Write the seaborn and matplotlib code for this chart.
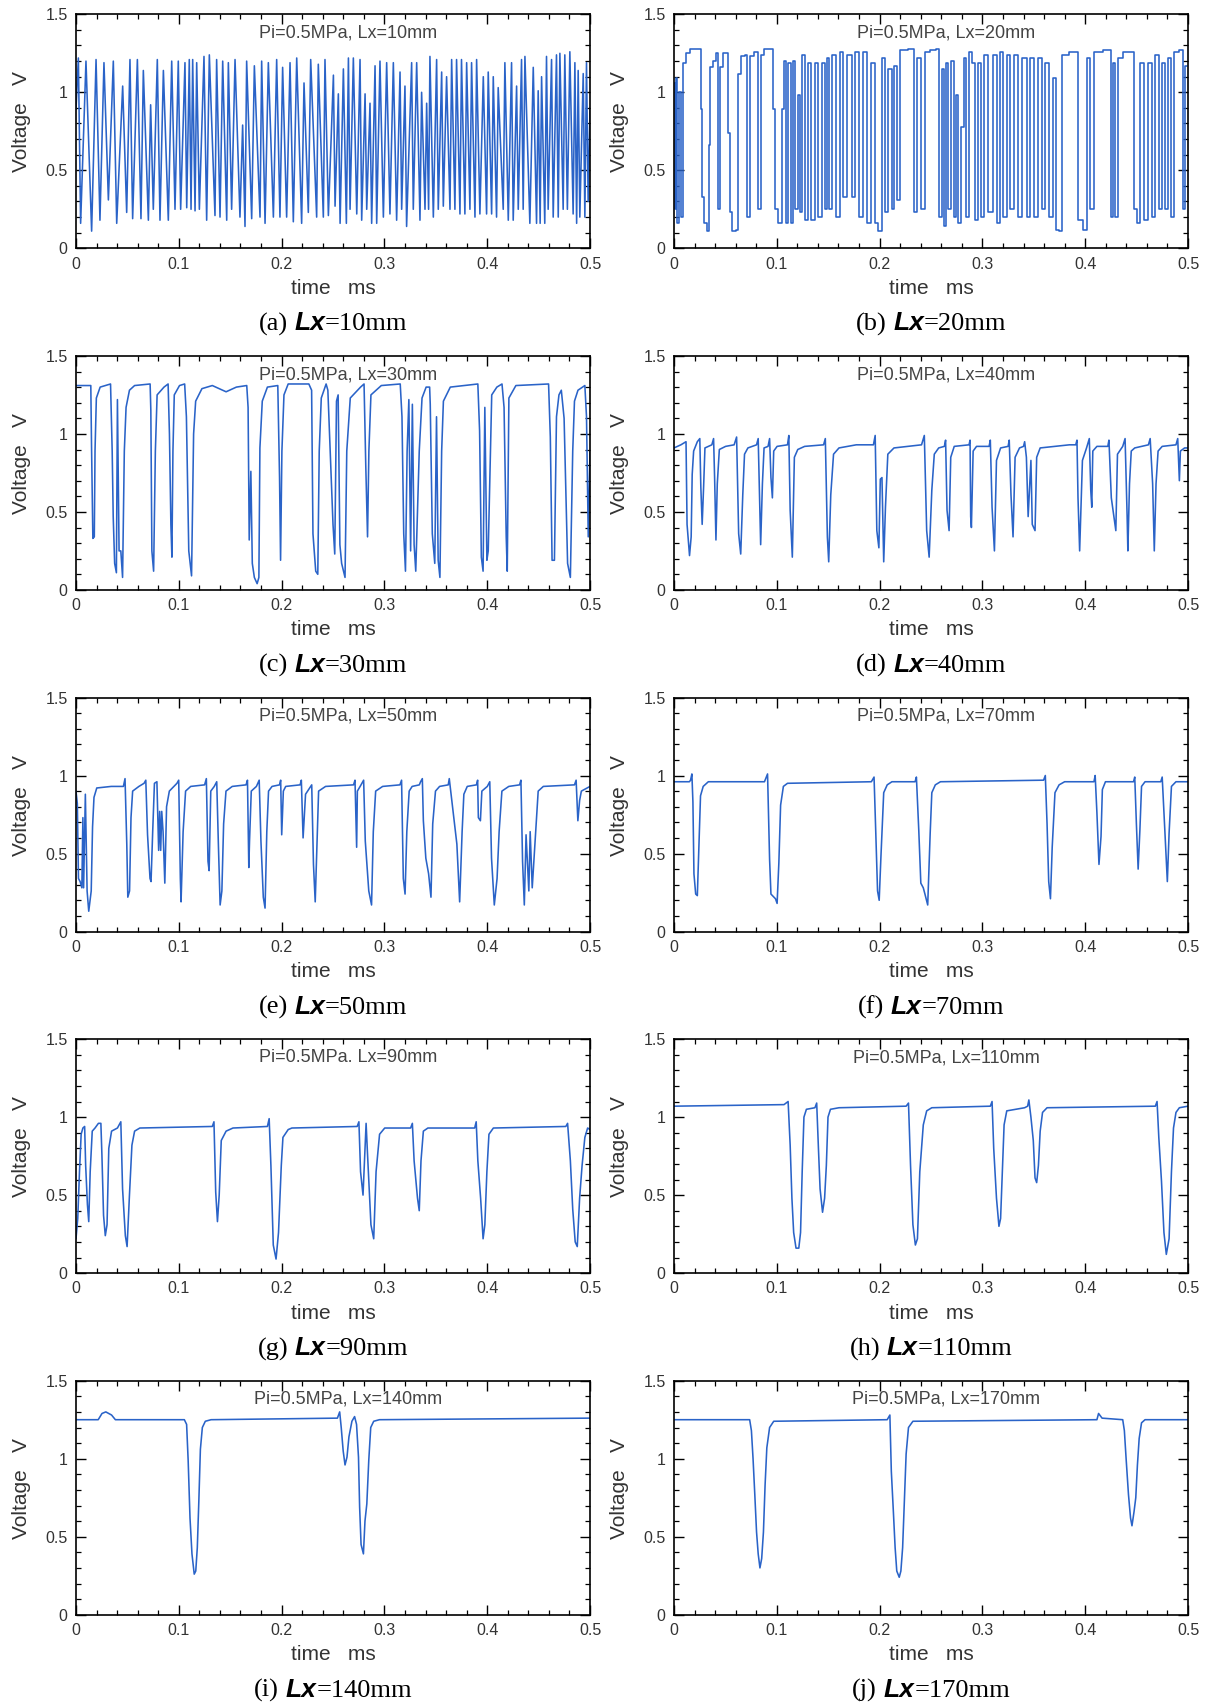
import matplotlib
matplotlib.use("Agg")
import matplotlib.pyplot as plt
import pandas as pd
import seaborn as sns
from matplotlib.ticker import MultipleLocator, FuncFormatter

lx10 = [(0.000, 0.89), (0.0023, 1.22), (0.0045, 0.16), (0.0097, 1.20), (0.0152, 0.11), (0.0195, 1.21),
        (0.0233, 0.18), (0.0272, 1.19), (0.0315, 0.31), (0.0363, 1.20), (0.0396, 0.16), (0.0454, 1.04),
        (0.0493, 0.23), (0.0525, 1.21), (0.0551, 0.19), (0.0597, 1.21), (0.0632, 0.19), (0.0655, 1.14),
        (0.0704, 0.18), (0.0726, 0.92), (0.0752, 0.25), (0.0791, 1.21), (0.0817, 0.18), (0.0850, 1.14),
        (0.0898, 0.18), (0.0931, 1.20), (0.0963, 0.25), (0.0995, 1.20), (0.1018, 0.25), (0.1060, 1.19),
        (0.1077, 0.26), (0.1102, 1.21), (0.1119, 0.25), (0.1135, 1.21), (0.1158, 0.24), (0.1174, 1.19),
        (0.1200, 0.25), (0.1245, 1.23), (0.1271, 0.18), (0.1297, 1.24), (0.1352, 0.21), (0.1368, 1.21),
        (0.1401, 0.20), (0.1427, 1.20), (0.1466, 0.18), (0.1482, 1.19), (0.1514, 0.25), (0.1547, 1.21),
        (0.1595, 0.20), (0.1621, 0.79), (0.1644, 0.14), (0.1660, 1.20), (0.1709, 0.19), (0.1735, 1.17),
        (0.1790, 0.20), (0.1806, 1.20), (0.1839, 0.16), (0.1871, 1.19), (0.1920, 0.20), (0.1952, 1.21),
        (0.1984, 0.20), (0.2010, 1.16), (0.2049, 0.20), (0.2082, 1.19), (0.2114, 0.17), (0.2147, 1.22),
        (0.2195, 0.16), (0.2218, 1.06), (0.2260, 0.23), (0.2283, 1.21), (0.2341, 0.20), (0.2357, 1.18),
        (0.2406, 0.20), (0.2422, 1.21), (0.2455, 0.21), (0.2504, 1.11), (0.2520, 0.27), (0.2552, 0.99),
        (0.2569, 0.16), (0.2601, 1.15), (0.2630, 0.16), (0.2650, 1.22), (0.2666, 0.25), (0.2698, 1.22),
        (0.2731, 0.22), (0.2763, 1.21), (0.2779, 0.18), (0.2812, 0.99), (0.2828, 0.25), (0.2860, 0.93),
        (0.2876, 0.16), (0.2909, 1.17), (0.2925, 0.16), (0.2957, 1.20), (0.2990, 0.20), (0.3022, 1.19),
        (0.3054, 0.22), (0.3087, 1.19), (0.3119, 0.18), (0.3152, 1.13), (0.3168, 0.25), (0.3200, 1.04),
        (0.3216, 0.14), (0.3265, 1.19), (0.3281, 0.25), (0.3314, 1.19), (0.3346, 0.18), (0.3362, 1.00),
        (0.3395, 0.25), (0.3411, 0.93), (0.3430, 0.25), (0.3443, 1.23), (0.3476, 0.20), (0.3508, 1.21),
        (0.3524, 0.25), (0.3557, 1.13), (0.3573, 0.27), (0.3605, 1.10), (0.3638, 0.25), (0.3654, 1.21),
        (0.3686, 0.25), (0.3702, 1.21), (0.3735, 0.22), (0.3750, 1.21), (0.3783, 0.22), (0.3800, 1.19),
        (0.3832, 0.25), (0.3848, 1.19), (0.3881, 0.20), (0.3897, 1.21), (0.3929, 0.22), (0.3962, 1.10),
        (0.3994, 0.22), (0.4010, 1.13), (0.4043, 0.22), (0.4059, 1.10), (0.4091, 0.20), (0.4107, 1.03),
        (0.4156, 0.25), (0.4172, 1.19), (0.4205, 0.18), (0.4237, 1.19), (0.4253, 0.18), (0.4286, 1.04),
        (0.4302, 0.25), (0.4334, 1.21), (0.4350, 0.25), (0.4367, 1.23), (0.4415, 0.16), (0.4448, 1.16),
        (0.4480, 0.16), (0.4496, 1.01), (0.4515, 0.16), (0.4529, 1.10), (0.4560, 0.16), (0.4577, 1.23),
        (0.4593, 0.25), (0.4626, 1.21), (0.4642, 0.20), (0.4674, 1.24), (0.4691, 0.20), (0.4707, 1.25),
        (0.4739, 0.25), (0.4755, 1.24), (0.4780, 0.25), (0.4804, 1.26), (0.4836, 0.22), (0.4853, 1.19),
        (0.4870, 0.16), (0.4885, 1.14), (0.4901, 0.20), (0.4934, 1.12), (0.4950, 0.20), (0.4966, 1.19),
        (0.4982, 0.30), (0.5000, 0.90)]

lx20 = [(0.000, 1.06), (0.0010, 0.25), (0.0026, 1.09), (0.0042, 0.16), (0.0058, 1.00), (0.0075, 0.20),
        (0.0097, 1.19), (0.0139, 1.25), (0.0172, 1.28), (0.0253, 1.28), (0.0269, 0.89), (0.0279, 0.33),
        (0.0302, 0.16), (0.0334, 0.11), (0.0350, 0.66), (0.0360, 1.16), (0.0399, 1.20), (0.0422, 1.25),
        (0.0435, 0.25), (0.0454, 1.16), (0.0496, 1.25), (0.0519, 1.25), (0.0532, 0.74), (0.0551, 0.23),
        (0.0584, 0.11), (0.0616, 0.12), (0.0632, 1.12), (0.0674, 1.23), (0.0700, 1.24), (0.0723, 0.20),
        (0.0746, 1.23), (0.0804, 1.26), (0.0830, 0.25), (0.0856, 1.24), (0.0901, 1.28), (0.0950, 1.28),
        (0.0973, 0.89), (0.0999, 0.25), (0.1031, 0.16), (0.1064, 0.89), (0.1080, 1.20), (0.1102, 0.16),
        (0.1122, 1.19), (0.1148, 0.16), (0.1167, 1.20), (0.1193, 0.25), (0.1213, 0.98), (0.1232, 0.23),
        (0.1265, 1.24), (0.1291, 0.18), (0.1316, 1.19), (0.1355, 0.18), (0.1388, 1.19), (0.1420, 0.20),
        (0.1453, 1.19), (0.1479, 0.25), (0.1501, 1.22), (0.1524, 0.25), (0.1556, 1.24), (0.1589, 0.20),
        (0.1631, 1.26), (0.1663, 0.33), (0.1712, 1.24), (0.1744, 0.33), (0.1783, 1.26), (0.1816, 0.20),
        (0.1858, 1.26), (0.1890, 0.16), (0.1939, 1.19), (0.1971, 0.16), (0.2004, 0.11), (0.2036, 1.22),
        (0.2069, 0.23), (0.2101, 1.15), (0.2134, 0.25), (0.2153, 1.17), (0.2182, 0.31), (0.2215, 1.27),
        (0.2328, 1.28), (0.2348, 0.23), (0.2380, 1.22), (0.2425, 0.25), (0.2464, 1.26), (0.2523, 1.27),
        (0.2571, 1.28), (0.2594, 0.20), (0.2613, 1.15), (0.2633, 0.14), (0.2652, 1.19), (0.2685, 0.25),
        (0.2711, 1.20), (0.2733, 0.20), (0.2756, 0.98), (0.2776, 0.16), (0.2802, 0.78), (0.2831, 1.22),
        (0.2853, 0.20), (0.2886, 1.26), (0.2918, 1.19), (0.2944, 0.18), (0.2977, 1.19), (0.2996, 0.20),
        (0.3041, 1.24), (0.3074, 0.23), (0.3123, 1.24), (0.3155, 0.16), (0.3187, 1.26), (0.3220, 0.20),
        (0.3252, 1.24), (0.3285, 0.25), (0.3333, 1.24), (0.3366, 0.20), (0.3414, 1.22), (0.3447, 0.20),
        (0.3479, 1.22), (0.3528, 0.20), (0.3560, 1.22), (0.3593, 0.25), (0.3625, 1.19), (0.3674, 0.20),
        (0.3706, 1.09), (0.3729, 0.12), (0.3755, 0.11), (0.3787, 1.24), (0.3901, 1.26), (0.3966, 0.18),
        (0.3998, 0.12), (0.4030, 1.22), (0.4063, 0.25), (0.4111, 1.26), (0.4241, 1.27), (0.4257, 0.20),
        (0.4280, 1.19), (0.4306, 0.20), (0.4339, 1.22), (0.4387, 1.26), (0.4468, 1.26), (0.4485, 0.25),
        (0.4517, 0.16), (0.4549, 1.19), (0.4598, 0.18), (0.4630, 1.19), (0.4663, 0.20), (0.4702, 1.24),
        (0.4728, 0.25), (0.4760, 1.19), (0.4793, 0.25), (0.4825, 1.22), (0.4845, 0.20), (0.4890, 1.26),
        (0.4939, 1.27), (0.4961, 0.25), (0.4987, 1.17)]

lx30 = [(0.000, 1.31), (0.0144, 1.31), (0.0151, 0.93), (0.0164, 0.33), (0.0178, 0.34), (0.0185, 0.89),
        (0.0198, 1.23), (0.0235, 1.30), (0.0336, 1.32), (0.0352, 0.89), (0.0362, 0.47), (0.0376, 0.17),
        (0.0393, 0.11), (0.0403, 1.22), (0.0419, 0.25), (0.0436, 0.25), (0.0453, 0.08), (0.0470, 0.89),
        (0.0487, 1.17), (0.0520, 1.28), (0.0570, 1.31), (0.0721, 1.32), (0.0728, 1.15), (0.0738, 0.25),
        (0.0755, 0.12), (0.0772, 0.89), (0.0789, 1.25), (0.0856, 1.30), (0.0896, 1.32), (0.0909, 1.00),
        (0.0923, 0.42), (0.0933, 0.21), (0.0943, 0.89), (0.0956, 1.25), (0.1007, 1.31), (0.1057, 1.32),
        (0.1074, 1.11), (0.1097, 0.25), (0.1124, 0.09), (0.1144, 1.00), (0.1164, 1.21), (0.1225, 1.29),
        (0.1326, 1.31), (0.1460, 1.27), (0.1560, 1.30), (0.1661, 1.31), (0.1674, 1.17), (0.1685, 0.32),
        (0.1701, 0.76), (0.1715, 0.17), (0.1735, 0.08), (0.1762, 0.04), (0.1779, 0.08), (0.1789, 0.91),
        (0.1812, 1.21), (0.1862, 1.30), (0.1963, 1.31), (0.1980, 0.72), (0.1990, 0.19), (0.2003, 0.89),
        (0.2023, 1.25), (0.2064, 1.32), (0.2265, 1.32), (0.2292, 1.28), (0.2305, 0.36), (0.2332, 0.12),
        (0.2352, 0.10), (0.2366, 0.89), (0.2386, 1.23), (0.2433, 1.32), (0.2450, 1.28), (0.2500, 0.42),
        (0.2517, 0.23), (0.2534, 1.21), (0.2550, 1.25), (0.2567, 0.29), (0.2584, 0.17), (0.2617, 0.08),
        (0.2634, 0.89), (0.2668, 1.23), (0.2768, 1.30), (0.2802, 1.32), (0.2819, 0.79), (0.2836, 0.34),
        (0.2849, 0.89), (0.2869, 1.25), (0.2970, 1.31), (0.3154, 1.32), (0.3171, 1.11), (0.3188, 0.36),
        (0.3205, 0.12), (0.3221, 0.89), (0.3238, 1.22), (0.3255, 0.25), (0.3272, 1.19), (0.3289, 0.29),
        (0.3305, 0.12), (0.3339, 0.89), (0.3366, 1.23), (0.3406, 1.30), (0.3440, 1.30), (0.3446, 1.19),
        (0.3466, 0.36), (0.3490, 0.17), (0.3507, 1.11), (0.3523, 0.19), (0.3540, 0.08), (0.3557, 0.89),
        (0.3574, 1.21), (0.3641, 1.30), (0.3909, 1.32), (0.3926, 1.02), (0.3943, 0.21), (0.3960, 0.12),
        (0.3977, 1.17), (0.3997, 0.19), (0.4010, 0.25), (0.4044, 1.25), (0.4094, 1.30), (0.4144, 1.32),
        (0.4164, 1.17), (0.4185, 0.34), (0.4195, 0.12), (0.4211, 1.23), (0.4279, 1.31), (0.4597, 1.32),
        (0.4614, 0.98), (0.4631, 0.19), (0.4654, 0.19), (0.4674, 1.11), (0.4698, 1.25), (0.4721, 1.28),
        (0.4748, 1.10), (0.4782, 0.17), (0.4809, 0.08), (0.4832, 0.89), (0.4849, 1.21), (0.4883, 1.28),
        (0.4950, 1.31), (0.4966, 1.11), (0.4983, 0.34), (0.5000, 0.89)]

lx40 = [(0.000, 0.91), (0.0067, 0.93), (0.0117, 0.95), (0.0127, 0.42), (0.0151, 0.22), (0.0167, 0.34),
        (0.0177, 0.74), (0.0191, 0.89), (0.0227, 0.95), (0.0251, 0.97), (0.0261, 0.66), (0.0274, 0.42),
        (0.0288, 0.66), (0.0301, 0.91), (0.0368, 0.93), (0.0385, 0.97), (0.0395, 0.72), (0.0408, 0.32),
        (0.0421, 0.68), (0.0441, 0.90), (0.0502, 0.92), (0.0585, 0.93), (0.0609, 0.98), (0.0629, 0.36),
        (0.0649, 0.23), (0.0669, 0.61), (0.0686, 0.87), (0.0719, 0.91), (0.0803, 0.93), (0.0819, 0.97),
        (0.0836, 0.47), (0.0843, 0.29), (0.0860, 0.68), (0.0876, 0.91), (0.0915, 0.92), (0.0930, 0.97),
        (0.0943, 0.72), (0.0957, 0.59), (0.0970, 0.89), (0.1003, 0.92), (0.1104, 0.93), (0.1117, 0.99),
        (0.1130, 0.51), (0.1151, 0.21), (0.1171, 0.85), (0.1204, 0.90), (0.1271, 0.92), (0.1455, 0.93),
        (0.1472, 0.97), (0.1492, 0.34), (0.1505, 0.18), (0.1525, 0.61), (0.1552, 0.87), (0.1605, 0.91),
        (0.1773, 0.93), (0.1940, 0.93), (0.1957, 0.99), (0.1973, 0.38), (0.1993, 0.27), (0.2007, 0.71),
        (0.2023, 0.72), (0.2040, 0.18), (0.2057, 0.53), (0.2080, 0.87), (0.2140, 0.91), (0.2408, 0.93),
        (0.2435, 0.99), (0.2458, 0.38), (0.2482, 0.21), (0.2508, 0.64), (0.2532, 0.87), (0.2575, 0.91),
        (0.2630, 0.92), (0.2642, 0.96), (0.2656, 0.51), (0.2676, 0.38), (0.2692, 0.85), (0.2726, 0.92),
        (0.2870, 0.93), (0.2880, 0.96), (0.2886, 0.47), (0.2893, 0.40), (0.2910, 0.89), (0.2943, 0.92),
        (0.3065, 0.92), (0.3077, 0.96), (0.3094, 0.53), (0.3117, 0.25), (0.3137, 0.83), (0.3177, 0.91),
        (0.3250, 0.92), (0.3261, 0.96), (0.3278, 0.61), (0.3298, 0.34), (0.3318, 0.85), (0.3361, 0.91),
        (0.3400, 0.92), (0.3411, 0.95), (0.3428, 0.85), (0.3445, 0.47), (0.3472, 0.83), (0.3485, 0.42),
        (0.3512, 0.38), (0.3528, 0.85), (0.3562, 0.91), (0.3846, 0.93), (0.3908, 0.93), (0.3920, 0.96),
        (0.3930, 0.59), (0.3946, 0.25), (0.3973, 0.83), (0.4013, 0.91), (0.4040, 0.97), (0.4054, 0.64),
        (0.4064, 0.53), (0.4074, 0.89), (0.4114, 0.92), (0.4220, 0.92), (0.4231, 0.96), (0.4254, 0.59),
        (0.4298, 0.38), (0.4314, 0.87), (0.4365, 0.92), (0.4388, 0.97), (0.4408, 0.47), (0.4415, 0.25),
        (0.4431, 0.68), (0.4448, 0.89), (0.4482, 0.91), (0.4615, 0.93), (0.4632, 0.97), (0.4656, 0.68),
        (0.4672, 0.25), (0.4689, 0.68), (0.4709, 0.89), (0.4749, 0.92), (0.4883, 0.93), (0.4900, 0.97),
        (0.4916, 0.70), (0.4926, 0.89), (0.4967, 0.91), (0.5000, 0.91)]

lx50 = [(0.000, 0.90), (0.0013, 0.82), (0.0024, 0.34), (0.0040, 0.32), (0.0057, 0.28), (0.0067, 0.73),
        (0.0074, 0.28), (0.0091, 0.88), (0.0108, 0.26), (0.0124, 0.13), (0.0148, 0.26), (0.0161, 0.67),
        (0.0175, 0.86), (0.0202, 0.92), (0.0343, 0.93), (0.0461, 0.93), (0.0477, 0.98), (0.0494, 0.56),
        (0.0504, 0.22), (0.0521, 0.26), (0.0535, 0.73), (0.0551, 0.90), (0.0612, 0.93), (0.0662, 0.95),
        (0.0679, 0.97), (0.0696, 0.62), (0.0720, 0.34), (0.0730, 0.32), (0.0746, 0.64), (0.0763, 0.95),
        (0.0787, 0.96), (0.0804, 0.52), (0.0814, 0.77), (0.0824, 0.52), (0.0834, 0.77), (0.0847, 0.64),
        (0.0864, 0.31), (0.0881, 0.80), (0.0908, 0.90), (0.0982, 0.95), (0.0999, 0.97), (0.1015, 0.34),
        (0.1022, 0.19), (0.1042, 0.64), (0.1066, 0.90), (0.1116, 0.93), (0.1251, 0.94), (0.1268, 0.98),
        (0.1284, 0.45), (0.1295, 0.39), (0.1311, 0.90), (0.1345, 0.93), (0.1369, 0.96), (0.1385, 0.56),
        (0.1402, 0.17), (0.1419, 0.26), (0.1436, 0.69), (0.1459, 0.90), (0.1520, 0.93), (0.1654, 0.94),
        (0.1668, 0.97), (0.1681, 0.41), (0.1688, 0.58), (0.1705, 0.90), (0.1755, 0.93), (0.1782, 0.97),
        (0.1799, 0.58), (0.1822, 0.22), (0.1839, 0.15), (0.1856, 0.64), (0.1873, 0.90), (0.1907, 0.93),
        (0.1980, 0.94), (0.1991, 0.97), (0.2001, 0.62), (0.2017, 0.90), (0.2040, 0.93), (0.2180, 0.94),
        (0.2192, 0.97), (0.2209, 0.60), (0.2233, 0.88), (0.2293, 0.94), (0.2310, 0.43), (0.2327, 0.19),
        (0.2344, 0.56), (0.2360, 0.90), (0.2428, 0.93), (0.2700, 0.94), (0.2714, 0.97), (0.2730, 0.54),
        (0.2737, 0.90), (0.2764, 0.93), (0.2798, 0.97), (0.2814, 0.58), (0.2848, 0.26), (0.2875, 0.17),
        (0.2892, 0.64), (0.2915, 0.90), (0.2983, 0.93), (0.3151, 0.94), (0.3167, 0.97), (0.3184, 0.34),
        (0.3201, 0.24), (0.3218, 0.64), (0.3241, 0.90), (0.3270, 0.93), (0.3340, 0.94), (0.3352, 0.96),
        (0.3369, 0.98), (0.3379, 0.71), (0.3403, 0.47), (0.3430, 0.37), (0.3453, 0.22), (0.3470, 0.69),
        (0.3497, 0.90), (0.3537, 0.93), (0.3621, 0.94), (0.3631, 0.98), (0.3705, 0.56), (0.3732, 0.19),
        (0.3756, 0.64), (0.3773, 0.88), (0.3806, 0.93), (0.3895, 0.94), (0.3907, 0.97), (0.3914, 0.73),
        (0.3934, 0.71), (0.3948, 0.90), (0.4001, 0.93), (0.4025, 0.96), (0.4042, 0.47), (0.4069, 0.17),
        (0.4096, 0.34), (0.4116, 0.64), (0.4143, 0.90), (0.4210, 0.93), (0.4315, 0.94), (0.4328, 0.97),
        (0.4344, 0.45), (0.4361, 0.17), (0.4378, 0.62), (0.4405, 0.26), (0.4418, 0.64), (0.4438, 0.28),
        (0.4452, 0.43), (0.4472, 0.65), (0.4496, 0.90), (0.4546, 0.93), (0.4849, 0.94), (0.4865, 0.97),
        (0.4882, 0.71), (0.4899, 0.84), (0.4916, 0.90), (0.5000, 0.93)]

lx70 = [(0.000, 0.96), (0.0150, 0.96), (0.0161, 0.97), (0.0174, 1.01), (0.0184, 0.83), (0.0194, 0.37),
        (0.0211, 0.24), (0.0227, 0.23), (0.0241, 0.52), (0.0258, 0.87), (0.0284, 0.93), (0.0334, 0.96),
        (0.0880, 0.96), (0.0910, 1.01), (0.0930, 0.46), (0.0943, 0.24), (0.0987, 0.21), (0.1003, 0.18),
        (0.1020, 0.44), (0.1037, 0.81), (0.1064, 0.93), (0.1104, 0.95), (0.1920, 0.96), (0.1946, 0.99),
        (0.1963, 0.63), (0.1980, 0.26), (0.1996, 0.20), (0.2013, 0.48), (0.2040, 0.89), (0.2074, 0.94),
        (0.2120, 0.96), (0.2345, 0.96), (0.2358, 0.99), (0.2381, 0.65), (0.2401, 0.31), (0.2425, 0.28),
        (0.2441, 0.24), (0.2468, 0.17), (0.2492, 0.63), (0.2508, 0.89), (0.2542, 0.94), (0.2592, 0.96),
        (0.3595, 0.97), (0.3612, 1.00), (0.3629, 0.69), (0.3645, 0.32), (0.3662, 0.21), (0.3679, 0.54),
        (0.3706, 0.89), (0.3746, 0.94), (0.3800, 0.96), (0.4085, 0.96), (0.4097, 1.00), (0.4114, 0.76),
        (0.4134, 0.43), (0.4154, 0.61), (0.4167, 0.91), (0.4197, 0.96), (0.4470, 0.96), (0.4482, 0.99),
        (0.4498, 0.69), (0.4515, 0.40), (0.4532, 0.65), (0.4548, 0.93), (0.4582, 0.96), (0.4735, 0.96),
        (0.4749, 0.99), (0.4776, 0.63), (0.4799, 0.32), (0.4816, 0.63), (0.4839, 0.93), (0.4883, 0.96),
        (0.5000, 0.96)]

lx90 = [(0.000, 0.22), (0.0017, 0.35), (0.0034, 0.65), (0.0050, 0.89), (0.0067, 0.93), (0.0084, 0.94),
        (0.0094, 0.69), (0.0111, 0.44), (0.0124, 0.33), (0.0138, 0.65), (0.0158, 0.91), (0.0185, 0.93),
        (0.0218, 0.96), (0.0242, 0.96), (0.0252, 0.76), (0.0268, 0.37), (0.0285, 0.24), (0.0302, 0.31),
        (0.0319, 0.80), (0.0346, 0.91), (0.0403, 0.93), (0.0436, 0.97), (0.0453, 0.54), (0.0480, 0.24),
        (0.0497, 0.17), (0.0520, 0.50), (0.0544, 0.82), (0.0570, 0.91), (0.0621, 0.93), (0.1326, 0.94),
        (0.1342, 0.97), (0.1359, 0.52), (0.1376, 0.33), (0.1393, 0.50), (0.1413, 0.85), (0.1460, 0.91),
        (0.1527, 0.93), (0.1862, 0.94), (0.1879, 0.99), (0.1896, 0.69), (0.1919, 0.18), (0.1946, 0.09),
        (0.1970, 0.26), (0.1997, 0.69), (0.2013, 0.87), (0.2064, 0.92), (0.2100, 0.93), (0.2735, 0.94),
        (0.2752, 0.97), (0.2768, 0.65), (0.2792, 0.50), (0.2822, 0.96), (0.2836, 0.76), (0.2869, 0.31),
        (0.2896, 0.22), (0.2919, 0.65), (0.2953, 0.89), (0.3003, 0.93), (0.3255, 0.93), (0.3272, 0.96),
        (0.3289, 0.72), (0.3322, 0.48), (0.3339, 0.40), (0.3356, 0.72), (0.3379, 0.91), (0.3423, 0.93),
        (0.3878, 0.93), (0.3893, 0.97), (0.3909, 0.72), (0.3936, 0.48), (0.3960, 0.22), (0.3977, 0.31),
        (0.3997, 0.65), (0.4017, 0.89), (0.4060, 0.93), (0.4765, 0.94), (0.4782, 0.96), (0.4809, 0.72),
        (0.4832, 0.41), (0.4856, 0.20), (0.4876, 0.17), (0.4899, 0.48), (0.4923, 0.69), (0.4950, 0.87),
        (0.4977, 0.93), (0.5000, 0.92)]

lx110 = [(0.000, 1.07), (0.1070, 1.08), (0.1110, 1.10), (0.1130, 0.82), (0.1147, 0.48), (0.1164, 0.26),
         (0.1187, 0.16), (0.1214, 0.16), (0.1231, 0.26), (0.1247, 0.65), (0.1264, 1.00), (0.1288, 1.05),
         (0.1371, 1.06), (0.1388, 1.09), (0.1405, 0.80), (0.1421, 0.54), (0.1445, 0.39), (0.1465, 0.48),
         (0.1482, 0.69), (0.1498, 1.00), (0.1522, 1.05), (0.1605, 1.06), (0.2258, 1.07), (0.2281, 1.09),
         (0.2301, 0.69), (0.2324, 0.31), (0.2348, 0.18), (0.2368, 0.22), (0.2391, 0.65), (0.2425, 0.95),
         (0.2458, 1.04), (0.2508, 1.06), (0.3077, 1.07), (0.3094, 1.10), (0.3110, 0.80), (0.3137, 0.48),
         (0.3161, 0.30), (0.3177, 0.35), (0.3194, 0.65), (0.3211, 0.95), (0.3237, 1.04), (0.3411, 1.06),
         (0.3440, 1.07), (0.3452, 1.11), (0.3472, 1.00), (0.3495, 0.85), (0.3512, 0.61), (0.3528, 0.58),
         (0.3545, 0.69), (0.3562, 0.91), (0.3585, 1.03), (0.3629, 1.06), (0.4682, 1.07), (0.4699, 1.10),
         (0.4716, 0.87), (0.4742, 0.59), (0.4766, 0.26), (0.4789, 0.12), (0.4816, 0.22), (0.4839, 0.65),
         (0.4859, 0.93), (0.4883, 1.03), (0.4916, 1.06), (0.5000, 1.07)]

lx140 = [(0.000, 1.25), (0.0216, 1.25), (0.0253, 1.29), (0.0290, 1.30), (0.0346, 1.28), (0.0383, 1.25),
         (0.1054, 1.25), (0.1076, 1.22), (0.1091, 0.99), (0.1109, 0.62), (0.1128, 0.39), (0.1150, 0.26),
         (0.1165, 0.28), (0.1180, 0.43), (0.1195, 0.73), (0.1210, 1.06), (0.1229, 1.20), (0.1258, 1.24),
         (0.1314, 1.25), (0.2543, 1.26), (0.2565, 1.30), (0.2580, 1.20), (0.2599, 1.05), (0.2617, 0.96),
         (0.2636, 1.01), (0.2655, 1.14), (0.2684, 1.24), (0.2710, 1.27), (0.2729, 1.22), (0.2748, 1.01),
         (0.2759, 0.69), (0.2773, 0.45), (0.2796, 0.39), (0.2811, 0.60), (0.2829, 0.71), (0.2848, 0.99),
         (0.2867, 1.20), (0.2896, 1.24), (0.2952, 1.25), (0.5000, 1.26)]

lx170 = [(0.000, 1.25), (0.0736, 1.25), (0.0753, 1.18), (0.0769, 1.00), (0.0786, 0.77), (0.0803, 0.53),
         (0.0819, 0.39), (0.0836, 0.30), (0.0853, 0.36), (0.0870, 0.53), (0.0886, 0.83), (0.0903, 1.07),
         (0.0930, 1.20), (0.0970, 1.24), (0.2074, 1.25), (0.2100, 1.28), (0.2114, 0.92), (0.2134, 0.66),
         (0.2151, 0.43), (0.2167, 0.28), (0.2191, 0.24), (0.2207, 0.28), (0.2224, 0.43), (0.2241, 0.73),
         (0.2258, 1.03), (0.2281, 1.20), (0.2324, 1.24), (0.4114, 1.25), (0.4130, 1.29), (0.4164, 1.26),
         (0.4365, 1.25), (0.4381, 1.18), (0.4398, 1.00), (0.4421, 0.77), (0.4441, 0.62), (0.4455, 0.57),
         (0.4475, 0.66), (0.4492, 0.75), (0.4508, 0.96), (0.4525, 1.13), (0.4548, 1.23), (0.4582, 1.25),
         (0.5000, 1.25)]

letters = ["a", "b", "c", "d", "e", "f", "g", "h", "i", "j"]
lx_mm = [10, 20, 30, 40, 50, 70, 90, 110, 140, 170]
notes = ["Pi=0.5MPa, Lx=10mm", "Pi=0.5MPa, Lx=20mm", "Pi=0.5MPa, Lx=30mm", "Pi=0.5MPa, Lx=40mm",
         "Pi=0.5MPa, Lx=50mm", "Pi=0.5MPa, Lx=70mm", "Pi=0.5MPa. Lx=90mm", "Pi=0.5MPa, Lx=110mm",
         "Pi=0.5MPa, Lx=140mm", "Pi=0.5MPa, Lx=170mm"]
traces = [lx10, lx20, lx30, lx40, lx50, lx70, lx90, lx110, lx140, lx170]
# the 20 mm record holds its plateaus, so it is drawn as held steps
step_drawn = [False, True, False, False, False, False, False, False, False, False]

# ---- styling ----
sns.set_theme(style="ticks")
plt.rcParams["font.family"] = ["Liberation Sans", "DejaVu Sans"]
LINE = "#2a63c8"
TXT = "#333333"

W, H = 1214, 1705
COL_X = [76, 674]
AX_W, AX_H = 514, 234
TOP0, PITCH = 14.3, 341.6

fig = plt.figure(figsize=(W / 100, H / 100), dpi=100)
fig.patch.set_facecolor("white")

fmt = FuncFormatter(lambda v, p: f"{v:g}")
axes = []
for i, pts in enumerate(traces):
    row, col = divmod(i, 2)
    top = TOP0 + row * PITCH
    ax = fig.add_axes([COL_X[col] / W, 1 - (top + AX_H) / H, AX_W / W, AX_H / H])
    df = pd.DataFrame(pts, columns=["time", "voltage"])
    sns.lineplot(data=df, x="time", y="voltage", ax=ax, color=LINE, linewidth=1.15,
                 estimator=None, sort=False,
                 drawstyle="steps-mid" if step_drawn[i] else "default")
    ax.set_xlim(0, 0.5)
    ax.set_ylim(0, 1.5)
    ax.xaxis.set_major_locator(MultipleLocator(0.1))
    ax.xaxis.set_minor_locator(MultipleLocator(0.02))
    ax.yaxis.set_major_locator(MultipleLocator(0.5))
    ax.yaxis.set_minor_locator(MultipleLocator(0.1))
    ax.xaxis.set_major_formatter(fmt)
    ax.yaxis.set_major_formatter(fmt)
    ax.tick_params(which="both", direction="in", top=True, right=True, color="black",
                   labelcolor=TXT)
    ax.tick_params(which="major", length=7, width=1.0, labelsize=11.5)
    ax.tick_params(axis="x", which="major", pad=6)
    ax.tick_params(axis="y", which="major", pad=6)
    ax.tick_params(which="minor", length=3.5, width=0.9)
    for s in ax.spines.values():
        s.set_visible(True)
        s.set_color("black")
        s.set_linewidth(1.2)
    ax.set_xlabel("time   ms", fontsize=15, color=TXT)
    ax.set_ylabel("Voltage   V", fontsize=15, color=TXT)
    ax.xaxis.set_label_coords(0.5, -40 / AX_H)
    ax.xaxis.label.set_va("center")
    ax.yaxis.set_label_coords(-54 / AX_W, 0.54)
    ax.yaxis.label.set_va("center")
    ax.text(0.265, 1.38, notes[i], ha="center", va="center", fontsize=13, color="#444444")
    ax.set_facecolor("white")
    axes.append((ax, row, col))

# ---- captions: "(x) Lx=..mm" with a bold italic sans "Lx" ----
renderer = fig.canvas.get_renderer()
CAP = 19
serif = dict(family=["Liberation Serif", "DejaVu Serif"], size=CAP, color="black")
sans_bi = dict(family=["Liberation Sans", "DejaVu Sans"], size=CAP, weight="bold",
               style="italic", color="black")
for i, (ax, row, col) in enumerate(axes):
    top = TOP0 + row * PITCH
    base_y = top + AX_H + 75 + 7
    pieces = [(f"({letters[i]})", serif, CAP * 100 / 72 * 0.25), ("Lx", sans_bi, 0),
              (f"={lx_mm[i]}mm", serif, 0)]
    objs, widths = [], []
    for txt, style, gap in pieces:
        t = fig.text(0, 1 - base_y / H, txt, va="baseline", ha="left", **style)
        objs.append((t, gap))
        widths.append(t.get_window_extent(renderer).width + gap)
    x = COL_X[col] + AX_W / 2 - sum(widths) / 2
    for (t, gap), w in zip(objs, widths):
        t.set_x(x / W)
        x += w

fig.savefig("out.png", dpi=100, facecolor="white")
